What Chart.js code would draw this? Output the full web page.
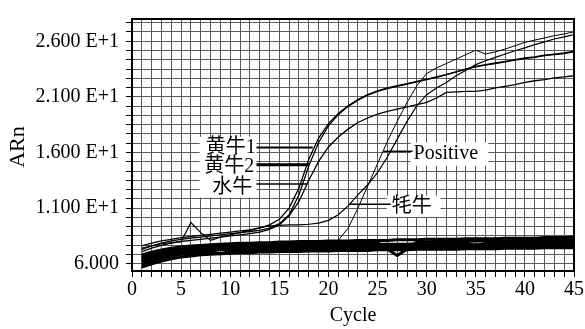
<!DOCTYPE html>
<html>
<head>
<meta charset="utf-8">
<script src="https://cdn.jsdelivr.net/npm/chart.js@4"></script>
<style>
  body { margin: 0; background: #fff; }
</style>
</head>
<body>
<canvas id="pcrChart" width="585" height="329"></canvas>
<script>
const cycles = [1, 2, 3, 4, 5, 6, 7, 8, 9, 10, 11, 12, 13, 14, 15, 16, 17, 18, 19, 20, 21, 22, 23,
  24, 25, 26, 27, 28, 29, 30, 31, 32, 33, 34, 35, 36, 37, 38, 39, 40, 41, 42, 43, 44, 45];

// amplification curves
const yellow1 = [7.6, 7.85, 8.05, 8.2, 8.35, 8.45, 8.55, 8.65, 8.75, 8.85, 8.95, 9.05, 9.2, 9.5, 10.0,
  11.0, 12.8, 15.4, 17.3, 18.6, 19.5, 20.2, 20.75, 21.2, 21.55, 21.8, 22.0, 22.2, 22.4, 22.6,
  22.8, 23.0, 23.25, 23.5, 23.75, 23.9, 24.05, 24.2, 24.35, 24.5, 24.6, 24.75, 24.85, 24.95, 25.1];
const yellow2 = [7.3, 7.6, 7.85, 8.05, 8.2, 8.3, 8.4, 8.5, 8.6, 8.7, 8.8, 8.9, 9.0, 9.2, 9.6,
  10.4, 12.2, 14.8, 16.9, 18.4, 19.4, 20.15, 20.7, 21.15, 21.5, 21.75, 21.95, 22.15, 22.35, 22.55,
  22.75, 23.0, 23.25, 23.5, 23.7, 23.85, 24.0, 24.15, 24.3, 24.45, 24.55, 24.7, 24.8, 24.9, 25.05];
const buffalo = [7.1, 7.4, 7.65, 7.85, 8.0, 8.1, 8.2, 8.3, 8.4, 8.5, 8.6, 8.7, 8.85, 9.1, 9.5,
  10.3, 11.6, 13.5, 15.2, 16.5, 17.4, 18.1, 18.7, 19.1, 19.45, 19.7, 19.9, 20.1, 20.3, 20.5,
  20.9, 21.4, 21.45, 21.5, 21.5, 21.6, 21.8, 21.95, 22.1, 22.3, 22.45, 22.55, 22.7, 22.8, 22.9];
const positive = [6.5, 6.8, 7.0, 7.15, 7.25, 7.35, 7.4, 7.45, 7.5, 7.55, 7.6, 7.6, 7.65, 7.65, 7.7,
  7.7, 7.75, 7.8, 7.85, 7.9, 8.1, 9.2, 11.0, 13.0, 15.0, 17.0, 18.8, 20.5, 22.0, 23.1,
  23.6, 24.0, 24.4, 24.8, 25.2, 24.85, 25.05, 25.3, 25.6, 25.9, 26.1, 26.3, 26.5, 26.65, 26.85];
const yak = [7.4, 7.6, 7.8, 7.9, 8.0, 9.7, 8.8, 8.1, 8.4, 8.6, 8.8, 9.0, 9.25, 9.4, 9.45,
  9.5, 9.5, 9.55, 9.65, 9.9, 10.4, 11.2, 12.2, 13.1, 14.2, 15.6, 17.2, 18.8, 20.2, 21.2,
  21.8, 22.3, 22.9, 23.4, 23.9, 24.25, 24.55, 24.85, 25.15, 25.4, 25.7, 25.95, 26.2, 26.4, 26.6];

// negative / baseline curves
const base1 = [5.7, 6.0, 6.25, 6.45, 6.6, 6.7, 6.8, 6.85, 6.9, 6.95, 7.0, 7.0, 7.05, 7.05, 7.1,
  7.1, 7.1, 7.15, 7.15, 7.15, 7.2, 7.2, 7.2, 7.2, 7.25, 7.25, 7.25, 7.25, 7.3, 7.3,
  7.3, 7.3, 7.3, 7.35, 7.35, 7.35, 7.35, 7.4, 7.4, 7.4, 7.4, 7.45, 7.45, 7.45, 7.45];
const base2 = [5.95, 6.25, 6.5, 6.7, 6.85, 6.95, 7.0, 7.05, 6.9, 7.1, 7.15, 7.2, 7.2, 7.25, 7.25,
  7.3, 7.3, 7.3, 7.35, 7.35, 7.35, 7.4, 7.4, 7.4, 7.4, 7.45, 7.45, 7.45, 7.45, 7.5,
  7.5, 7.5, 7.5, 7.55, 7.55, 7.55, 7.55, 7.6, 7.6, 7.6, 7.6, 7.6, 7.65, 7.65, 7.65];
const base3 = [6.2, 6.5, 6.7, 6.9, 7.0, 7.1, 7.15, 7.2, 7.25, 7.3, 7.35, 7.35, 7.4, 7.4, 7.45,
  7.45, 7.5, 7.5, 7.5, 7.55, 7.55, 7.55, 7.6, 7.6, 7.6, 7.6, 7.65, 7.65, 7.65, 7.65,
  7.65, 7.7, 7.7, 7.7, 7.7, 7.75, 7.75, 7.75, 7.75, 7.8, 7.8, 7.8, 7.8, 7.85, 7.85];
const base4 = [6.4, 6.7, 6.9, 7.05, 7.15, 7.25, 7.3, 7.35, 7.4, 7.45, 7.5, 7.5, 7.55, 7.55, 7.6,
  7.6, 7.6, 7.65, 7.65, 7.65, 7.7, 7.7, 7.7, 7.7, 7.75, 7.75, 7.75, 7.75, 7.8, 7.8,
  7.8, 7.8, 7.85, 7.85, 7.6, 7.85, 7.9, 7.9, 7.9, 7.9, 7.95, 7.95, 7.95, 8.0, 8.0];
const base5 = [6.6, 6.85, 7.05, 7.2, 7.3, 7.4, 7.45, 7.5, 7.55, 7.6, 7.65, 7.65, 7.7, 7.7, 7.75,
  7.75, 7.8, 7.8, 7.8, 7.85, 7.85, 7.85, 7.9, 7.9, 7.9, 7.3, 6.75, 7.3, 7.95, 7.95,
  8.0, 8.0, 8.0, 8.0, 8.05, 8.05, 8.05, 8.05, 8.1, 8.1, 8.1, 8.1, 8.15, 8.15, 8.15];
const base6 = [6.8, 7.05, 7.25, 7.4, 7.5, 7.6, 7.65, 7.7, 7.75, 7.8, 7.85, 7.85, 7.9, 7.9, 7.95,
  7.95, 8.0, 8.0, 8.0, 8.05, 8.05, 8.05, 8.1, 8.1, 8.1, 8.1, 8.15, 8.15, 8.15, 8.2,
  8.2, 8.2, 8.2, 8.25, 8.25, 8.25, 8.25, 8.3, 8.3, 8.3, 8.3, 8.35, 8.35, 8.35, 8.4];

const yTickValues = [6, 11, 16, 21, 26];
const yTickLabels = ["6.000", "1.100 E+1", "1.600 E+1", "2.100 E+1", "2.600 E+1"];
const xTickLabels = ["0", "5", "10", "15", "20", "25", "30", "35", "40", "45"];

const FONT = '"Liberation Serif", "Noto Sans CJK SC", serif';
Chart.defaults.font.family = FONT;
Chart.defaults.font.size = 20;
Chart.defaults.color = "#000";

function line(values, width) {
  return {
    data: values.map((v, i) => ({ x: cycles[i], y: v })),
    borderColor: "#000",
    borderWidth: width,
    pointRadius: 0,
    tension: 0,
  };
}

// labels: [text, x, y, align], leaders: [x1, x2, y, width], boxes: [x1, y1, x2, y2] in data units
const noteText = [
  ["黄牛1", 12.6, 16.46, "right"],
  ["黄牛2", 12.45, 14.75, "right"],
  ["水牛", 12.25, 12.8, "right"],
  ["Positive", 28.67, 15.85, "left"],
  ["牦牛", 26.44, 11.16, "left"],
];
const noteLeaders = [
  [12.67, 18.4, 16.46, 2],
  [12.67, 18.03, 14.9, 3],
  [12.67, 17.85, 13.16, 1.5],
  [25.6, 28.57, 16.11, 1.5],
  [22.1, 26.34, 11.34, 1.5],
];
const noteBoxes = [
  [6.89, 17.41, 12.67, 11.95],
  [28.37, 16.9, 36.27, 14.81],
  [25.94, 12.12, 31.41, 10.21],
];

const notes = {
  id: "notes",
  afterDatasetsDraw(chart) {
    const { ctx, scales: { x, y } } = chart;
    ctx.save();
    ctx.fillStyle = "#fff";
    noteBoxes.forEach((b) => {
      const x1 = x.getPixelForValue(b[0]);
      const y1 = y.getPixelForValue(b[1]);
      ctx.fillRect(x1, y1, x.getPixelForValue(b[2]) - x1, y.getPixelForValue(b[3]) - y1);
    });
    ctx.strokeStyle = "#000";
    noteLeaders.forEach((l) => {
      const yy = y.getPixelForValue(l[2]);
      ctx.lineWidth = l[3];
      ctx.beginPath();
      ctx.moveTo(x.getPixelForValue(l[0]), yy);
      ctx.lineTo(x.getPixelForValue(l[1]), yy);
      ctx.stroke();
    });
    ctx.fillStyle = "#000";
    ctx.font = "20px " + FONT;
    ctx.textBaseline = "middle";
    noteText.forEach((t) => {
      ctx.textAlign = t[3];
      ctx.fillText(t[0], x.getPixelForValue(t[1]), y.getPixelForValue(t[2]));
    });
    ctx.restore();
  },
  afterDraw(chart) {
    const { ctx, chartArea: a } = chart;
    ctx.save();
    ctx.strokeStyle = "#000";
    ctx.lineWidth = 2;
    ctx.strokeRect(a.left, a.top, a.right - a.left, a.bottom - a.top);
    // y axis title, placed a little below the axis middle as in the original
    ctx.translate(18, 147);
    ctx.rotate(-Math.PI / 2);
    ctx.fillStyle = "#000";
    ctx.font = "22px " + FONT;
    ctx.textAlign = "center";
    ctx.textBaseline = "middle";
    ctx.fillText("ARn", 0, 0);
    ctx.restore();
  },
};

const ctx = document.getElementById("pcrChart");
const pcrChart = new Chart(ctx, {
  type: "line",
  data: {
    datasets: [
      line(yellow1, 1.3),
      line(yellow2, 1.3),
      line(buffalo, 1.3),
      line(positive, 1),
      line(yak, 1.2),
      line(base1, 3),
      line(base2, 3),
      line(base3, 3),
      line(base4, 3),
      line(base5, 3),
      line(base6, 3),
    ],
  },
  options: {
    responsive: false,
    animation: false,
    devicePixelRatio: 1,
    layout: {
      autoPadding: false,
      padding: { left: 0, right: 9, top: 10, bottom: 0 },
    },
    plugins: {
      legend: { display: false },
      tooltip: { enabled: false },
    },
    scales: {
      x: {
        type: "linear",
        min: 0,
        max: 45,
        afterFit: (scale) => { scale.height = 58; },
        ticks: {
          stepSize: 1,
          autoSkip: false,
          maxRotation: 0,
          padding: 1,
          callback: (v) => (v % 5 === 0 ? xTickLabels[v / 5] : ""),
        },
        grid: { color: "#5a5a5a", lineWidth: 1, tickLength: 6, tickColor: "#000" },
        border: { display: false },
        title: { display: true, text: "Cycle", font: { size: 20 }, padding: { top: 0, bottom: 1 } },
      },
      y: {
        min: 5.35,
        max: 28,
        afterFit: (scale) => { scale.width = 132; },
        afterBuildTicks: (scale) => {
          const t = [];
          for (let k = 0; k <= 26; k++) t.push({ value: 6 + (k * 5) / 6 });
          scale.ticks = t;
        },
        ticks: {
          padding: 7,
          autoSkip: false,
          callback: (v) => {
            const i = yTickValues.findIndex((tv) => Math.abs(tv - v) < 0.01);
            return i >= 0 ? yTickLabels[i] : "";
          },
        },
        grid: { color: "#5a5a5a", lineWidth: 1, tickLength: 6, tickColor: "#000" },
        border: { display: false },
      },
    },
  },
  plugins: [notes],
});
</script>
</body>
</html>
